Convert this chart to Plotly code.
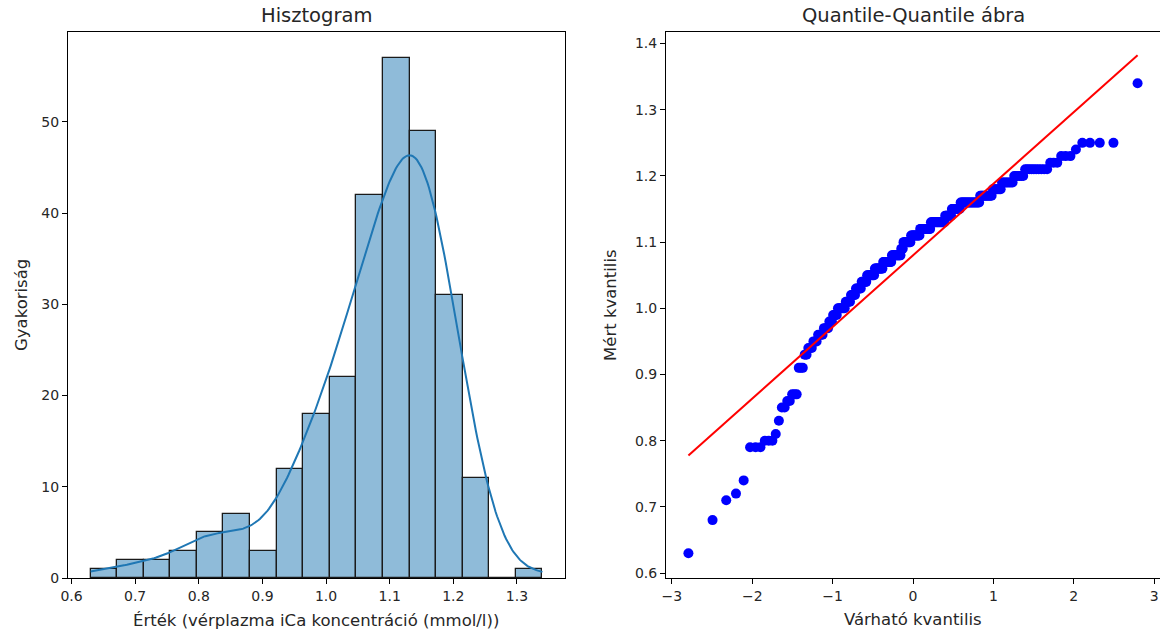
import numpy as np
import plotly.graph_objects as go
from statistics import NormalDist

# ---- Data (iCa values, mmol/l, with multiplicity) ----
ica_levels = [0.63, 0.68, 0.71, 0.72, 0.74, 0.79, 0.80, 0.81, 0.83, 0.85, 0.86, 0.87,
              0.91, 0.93, 0.94, 0.95, 0.96, 0.97, 0.98, 0.99, 1.00, 1.01, 1.02, 1.03,
              1.04, 1.05, 1.06, 1.07, 1.08, 1.09, 1.10, 1.11, 1.12, 1.13, 1.14, 1.15,
              1.16, 1.17, 1.18, 1.19, 1.20, 1.21, 1.22, 1.23, 1.24, 1.25, 1.34]
ica_counts = [1, 1, 1, 1, 1, 3, 3, 1, 1, 2, 2, 3,
              3, 2, 3, 3, 4, 4, 3, 4, 7, 5, 5, 6,
              6, 9, 10, 11, 12, 3, 10, 12, 14, 18, 8, 10,
              20, 11, 7, 8, 6, 10, 3, 3, 1, 4, 1]
n_bins = 17
kde_bw_adjust = 1.12
# least-squares line of the Q-Q plot
fit_slope = 0.1082
fit_intercept = 1.080

hist_x_ticks = [0.6, 0.7, 0.8, 0.9, 1.0, 1.1, 1.2, 1.3]
hist_y_ticks = [0, 10, 20, 30, 40, 50]
qq_x_ticks = [-3, -2, -1, 0, 1, 2, 3]
qq_y_ticks = [0.6, 0.7, 0.8, 0.9, 1.0, 1.1, 1.2, 1.3, 1.4]

# ---- derived ----
values = np.sort(np.repeat(np.array(ica_levels), ica_counts))
n = len(values)
edges = np.linspace(values.min(), values.max(), n_bins + 1)
counts, _ = np.histogram(values, bins=edges)
bw = edges[1] - edges[0]
centers = (edges[:-1] + edges[1:]) / 2

# KDE (Scott's rule) scaled to counts
sd = values.std(ddof=1)
h = sd * n ** (-1 / 5) * kde_bw_adjust
kx = np.linspace(values.min(), values.max(), 300)
kde = np.exp(-0.5 * ((kx[:, None] - values[None, :]) / h) ** 2).sum(axis=1) / (n * h * np.sqrt(2 * np.pi))
ky = kde * n * bw

# theoretical quantiles (Filliben)
m = np.empty(n)
m[-1] = 0.5 ** (1.0 / n)
m[0] = 1 - m[-1]
i = np.arange(2, n)
m[1:-1] = (i - 0.3175) / (n + 0.365)
nd = NormalDist()
osm = np.array([nd.inv_cdf(p) for p in m])
line_x = np.array([osm[0], osm[-1]])
line_y = fit_intercept + fit_slope * line_x

W, H = 1160, 631
FONT = "DejaVu Sans"
TXT = "#262626"

fig = go.Figure()
fig.add_trace(go.Bar(x=centers, y=counts, width=bw, xaxis="x", yaxis="y",
                     marker=dict(color="rgba(31,119,180,0.5)", line=dict(color="#1a1a1a", width=1.3)),
                     showlegend=False))
fig.add_trace(go.Scatter(x=kx, y=ky, mode="lines", xaxis="x", yaxis="y",
                         line=dict(color="#1f77b4", width=2), showlegend=False))
fig.add_trace(go.Scatter(x=osm, y=values, mode="markers", xaxis="x2", yaxis="y2",
                         marker=dict(color="#0000ff", size=10), showlegend=False))
fig.add_trace(go.Scatter(x=line_x, y=line_y, mode="lines", xaxis="x2", yaxis="y2",
                         line=dict(color="#ff0000", width=2), showlegend=False))

ydom = [1 - 578 / H, 1 - 32 / H]
ax_common = dict(showline=True, linecolor="black", linewidth=1, mirror=True,
                 ticks="outside", ticklen=5, tickcolor="black", tickwidth=1,
                 showgrid=False, zeroline=False, automargin=False,
                 tickfont=dict(family=FONT, size=14, color=TXT))

fig.update_layout(
    width=W, height=H, autosize=False,
    margin=dict(l=0, r=0, t=0, b=0),
    paper_bgcolor="white", plot_bgcolor="white",
    bargap=0,
    xaxis=dict(domain=[68 / W, 565 / W], range=[0.5945, 1.3755], tickvals=hist_x_ticks,
               tickformat=".1f", anchor="y", **ax_common),
    yaxis=dict(domain=ydom, range=[0, 59.85], tickvals=hist_y_ticks, anchor="x", **ax_common),
    xaxis2=dict(domain=[666 / W, 1.0], range=[-3.073, 3.073], tickvals=qq_x_ticks,
                anchor="y2", **ax_common),
    yaxis2=dict(domain=ydom, range=[0.5925, 1.4175], tickvals=qq_y_ticks, tickformat=".1f",
                anchor="x2", **ax_common),
)

def ann(text, x, y, size=16.5, angle=0):
    fig.add_annotation(text=text, x=x / W, y=1 - y / H, xref="paper", yref="paper",
                       showarrow=False, textangle=angle, xanchor="center", yanchor="middle",
                       font=dict(family=FONT, size=size, color=TXT))

ann("Hisztogram", 316, 16, size=19.5)
ann("Quantile-Quantile ábra", 913, 16, size=19.5)
ann("Érték (vérplazma iCa koncentráció (mmol/l))", 316, 620)
ann("Gyakoriság", 21, 305, angle=-90)
ann("Várható kvantilis", 913, 619)
ann("Mért kvantilis", 610, 305, angle=-90)

fig.write_html("out.html")
